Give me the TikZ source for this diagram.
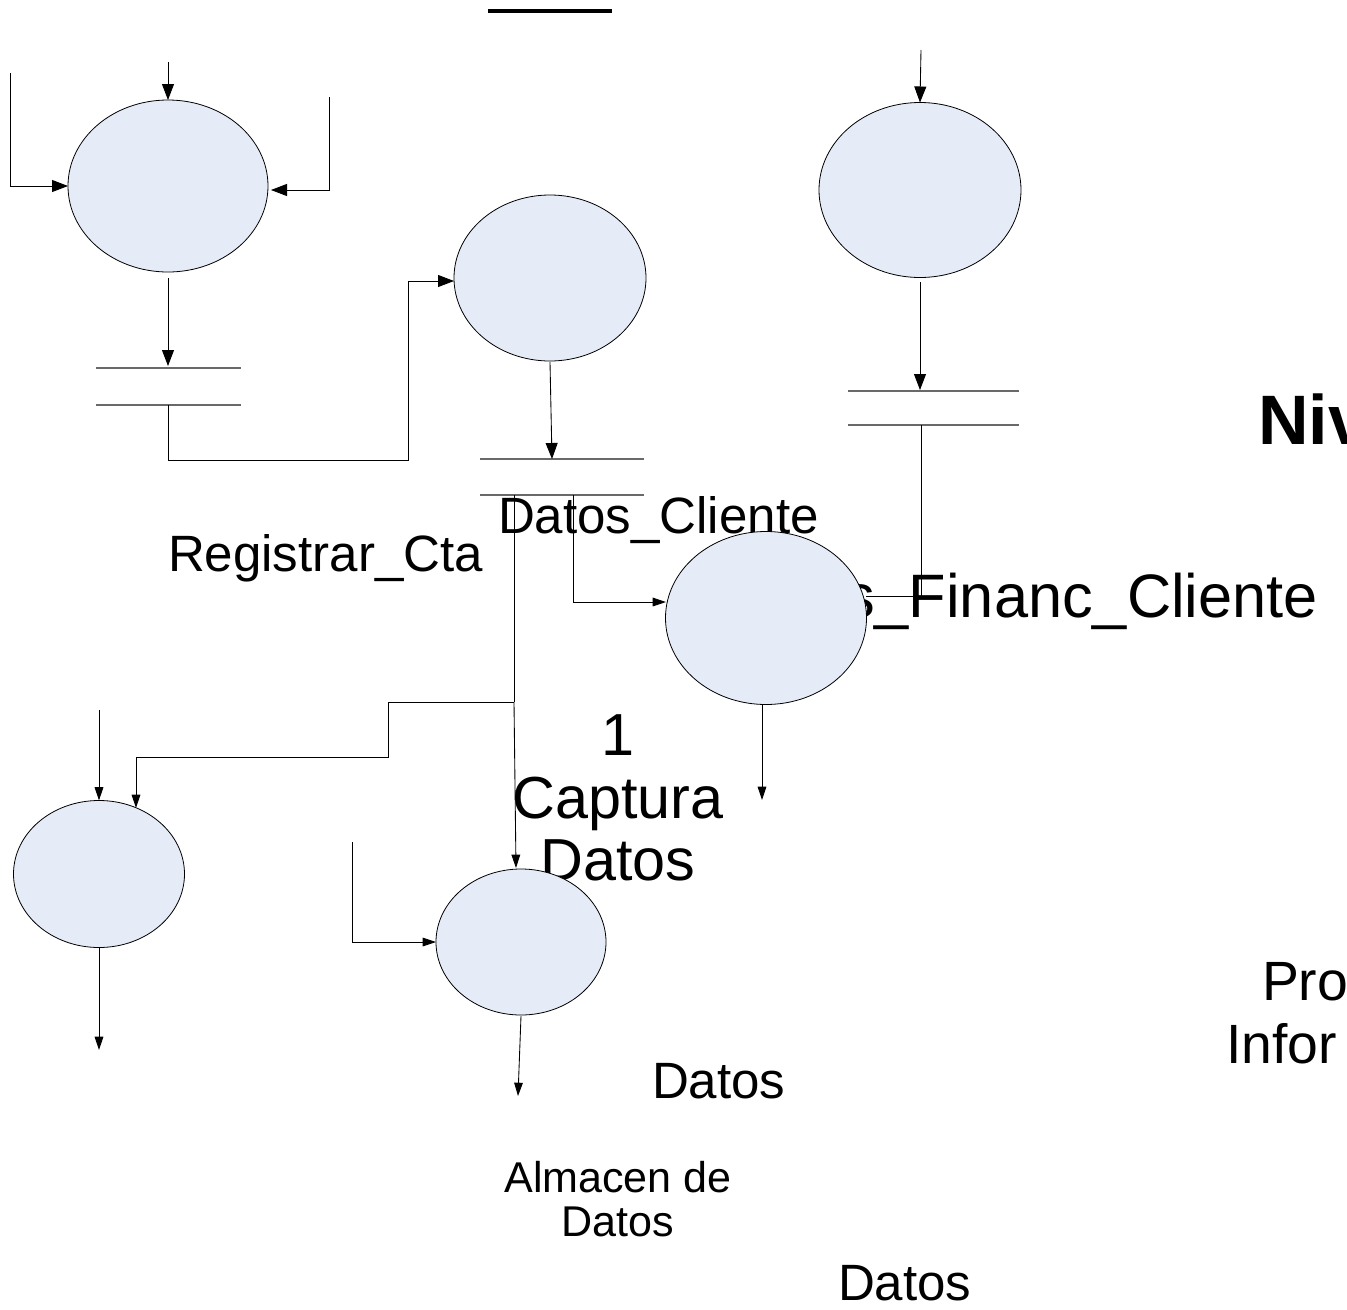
\documentclass[tikz,border=0pt]{standalone}
\usepackage{fontspec}
\setmainfont{Liberation Sans}
\usetikzlibrary{shapes.geometric,arrows.meta,calc}

\definecolor{procfill}{RGB}{230,236,247}
\definecolor{storeline}{RGB}{105,105,105}

\tikzset{
  proc/.style={ellipse, draw=black, fill=procfill, line width=0.6pt,
    inner sep=0pt, outer sep=0pt},
  store/.style={rectangle, draw=none, inner sep=0pt, outer sep=0pt},
  storeedge/.style={draw=storeline, line width=0.9pt},
  wire/.style={draw=black, line width=0.65pt},
  flow/.style={wire, -{Triangle[length=12pt,width=9pt]}},
  flowsm/.style={wire, -{Triangle[length=10pt,width=6.5pt]}},
  lbl/.style={inner sep=0pt, outer sep=0pt, font=\fontsize{38.3}{40}\selectfont},
  lblbig/.style={inner sep=0pt, outer sep=0pt, font=\fontsize{44.5}{46}\selectfont},
  lblsmall/.style={inner sep=0pt, outer sep=0pt, font=\fontsize{32.3}{34}\selectfont},
  lblside/.style={inner sep=0pt, outer sep=0pt, font=\fontsize{41.5}{43}\selectfont},
}

\begin{document}
\begin{tikzpicture}[x=0.75pt,y=-0.75pt]
\useasboundingbox (0,0) rectangle (1347,1310);

% title rule
\coordinate (r1) at (488,11);
\coordinate (r2) at (612,11);
\draw[line width=3pt] (r1) -- (r2);

% labels (drawn first, so that shapes and lines lie over them)
\node[lbl, anchor=base west] (tReg) at (168,571) {Registrar\_Cta};
\node[lbl, anchor=base west] (tDC) at (498,533) {Datos\_Cliente};
\node[lbl, anchor=base east, font=\fontsize{46}{48}\selectfont] (tDFC) at (1318,617) {Datos\_Financ\_Cliente};
\node[lblbig, anchor=base] (tNum) at (618,755) {1};
\node[lblbig, anchor=base] (tCap) at (618,818) {Captura};
\node[lblbig, anchor=base] (tDat) at (618,880) {Datos};
\node[lbl, anchor=base west] (tD1) at (652,1098) {Datos};
\node[lblsmall, anchor=base] (tAlm1) at (618,1192) {Almacen de};
\node[lblsmall, anchor=base] (tAlm2) at (618,1236) {Datos};
\node[lbl, anchor=base west] (tD2) at (838,1300) {Datos};
\node[inner sep=0pt, anchor=base west, font=\fontsize{52.5}{55}\bfseries] (tNiv) at (1258,444) {Niv};
\node[lblside, anchor=base west] (tPro) at (1262,1000) {Pro};
\node[lblside, anchor=base west] (tInf) at (1226,1063) {Infor};

% processes
\node[proc, minimum width=150pt, minimum height=129pt] (A) at (168,186) {};
\node[proc, minimum width=144pt, minimum height=124.5pt] (B) at (550,278) {};
\node[proc, minimum width=150.75pt, minimum height=129.75pt] (C) at (766,618) {};
\node[proc, minimum width=151.5pt, minimum height=131.25pt] (F) at (920,190) {};
\node[proc, minimum width=128.25pt, minimum height=110.25pt] (D) at (99,874) {};
\node[proc, minimum width=127.5pt, minimum height=109.5pt] (E) at (521,942) {};

% data stores: open rectangles with top and bottom edges only
\node[store, minimum width=108.75pt, minimum height=27.75pt] (S1) at (168.5,386.5) {};
\node[store, minimum width=123pt, minimum height=27pt] (S2) at (562,477) {};
\node[store, minimum width=128.25pt, minimum height=25.5pt] (S3) at (933.5,408) {};
\foreach \s in {S1,S2,S3}{
  \draw[storeedge] (\s.north west) -- (\s.north east);
  \draw[storeedge] (\s.south west) -- (\s.south east);
}

% free ends and bends
\coordinate (aTop) at (168,62);
\coordinate (aLeft) at (10,73);
\coordinate (aRight) at (329,97);
\coordinate (s1In) at (168,366);
\coordinate (k1) at (408,460);
\coordinate (bIn) at (408,281);
\coordinate (bOut) at (550,362);
\coordinate (s2In) at (552,459);
\coordinate (s2a) at (514,495);
\coordinate (j1) at (514,702);
\coordinate (k2) at (388,757);
\coordinate (dIn2) at (136,808);
\coordinate (eTop) at (516,868);
\coordinate (s2b) at (573,495);
\coordinate (cIn) at (666,602);
\coordinate (cOut) at (762,705);
\coordinate (cEnd) at (762,800);
\coordinate (fTop) at (921,50);
\coordinate (fOut) at (920,282);
\coordinate (s3In) at (920,390);
\coordinate (s3Out) at (921,425);
\coordinate (cRight) at (866,596);
\coordinate (dTop) at (99,710);
\coordinate (dEnd) at (99,1050);
\coordinate (eLeft) at (352,842);
\coordinate (eOut) at (521,1016);
\coordinate (eEnd) at (518,1096);

% flows of the first process
\draw[flow] (aTop) -- (A.north);
\draw[flow] (aLeft) |- (A.west);
\draw[flow] (aRight) |- ($(A.east)+(3,4)$);
\draw[flow] ($(A.south)+(0,6)$) -- (s1In);
\draw[flow] (S1.south) |- (k1) |- (bIn) -- (B.west |- bIn);

% second process and its store
\draw[flow] (bOut) -- (s2In);
\draw[wire] (s2a) -- (j1);
\draw[flowsm] (j1) -- (eTop);
\draw[flowsm] (j1) -| (k2) -| (dIn2);
\draw[flowsm] (s2b) |- (cIn);
\draw[flowsm] (cOut) -- (cEnd);

% process on the right and its store
\draw[flow] (fTop) -- (F.north);
\draw[flow] (fOut) -- (s3In);
\draw[wire] (s3Out) |- (cRight);

% lower processes
\draw[flowsm] (dTop) -- (D.north);
\draw[flowsm] (D.south) -- (dEnd);
\draw[flowsm] (eLeft) |- (E.west);
\draw[flowsm] (eOut) -- (eEnd);
\end{tikzpicture}
\end{document}
